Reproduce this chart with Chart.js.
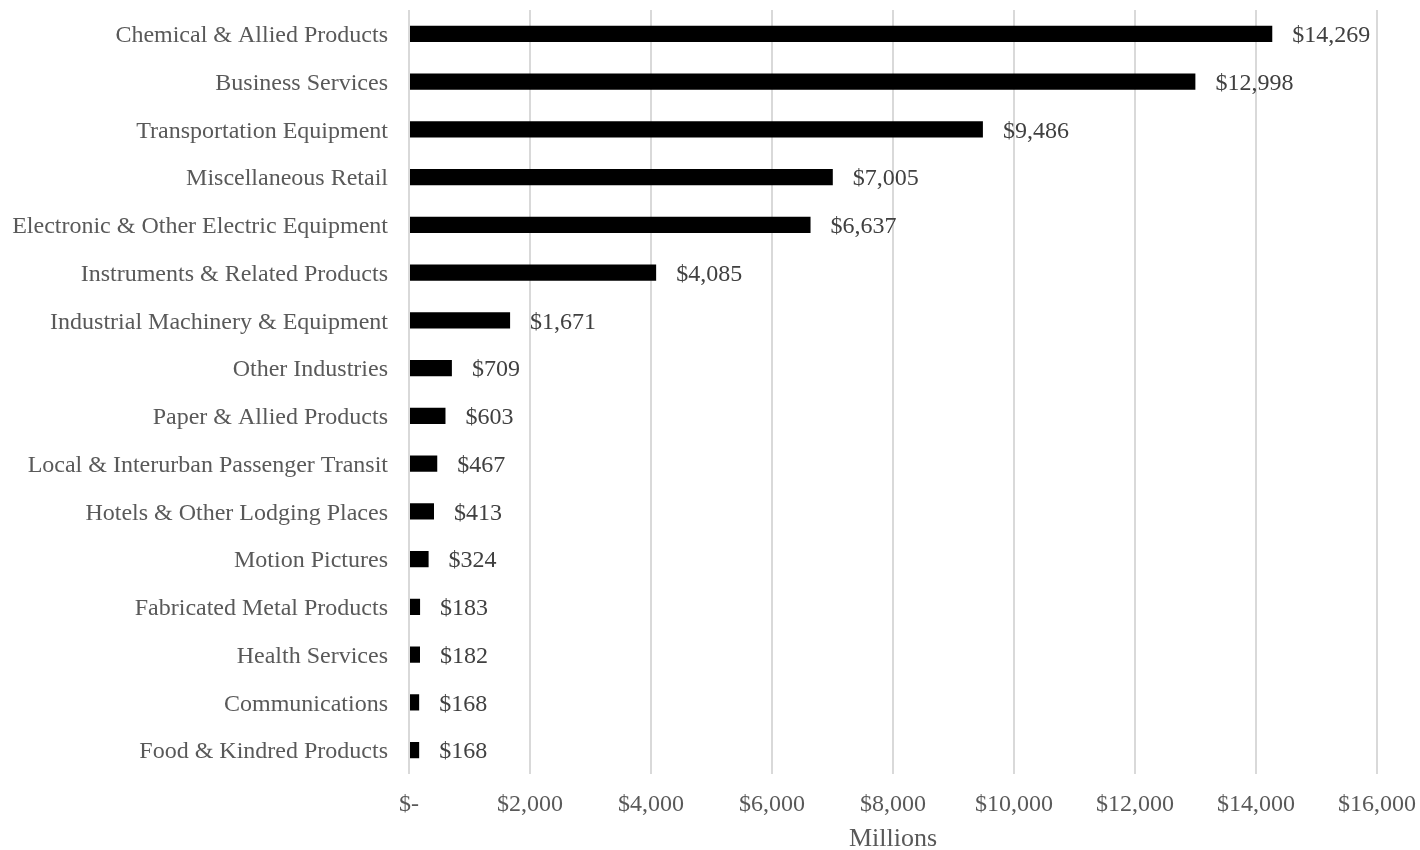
<!DOCTYPE html>
<html>
<head>
<meta charset="utf-8">
<script src="https://cdn.jsdelivr.net/npm/chart.js@4"></script>
<style>
  html, body { margin: 0; padding: 0; background: #fff; }
  #wrap { width: 1420px; height: 850px; }
</style>
</head>
<body>
<div id="wrap"><canvas id="myChart"></canvas></div>
<script>
const industrias = [
  "Chemical & Allied Products",
  "Business Services",
  "Transportation Equipment",
  "Miscellaneous Retail",
  "Electronic & Other Electric Equipment",
  "Instruments & Related Products",
  "Industrial Machinery & Equipment",
  "Other Industries",
  "Paper & Allied Products",
  "Local & Interurban Passenger Transit",
  "Hotels & Other Lodging Places",
  "Motion Pictures",
  "Fabricated Metal Products",
  "Health Services",
  "Communications",
  "Food & Kindred Products"
];
const montos = [14269, 12998, 9486, 7005, 6637, 4085, 1671, 709, 603, 467, 413, 324, 183, 182, 168, 168];
const ejeMax = 16000;
const ejePaso = 2000;

const fuente = "'Liberation Serif', 'Times New Roman', serif";

function dinero(v) {
  if (v === 0) return "$-";
  return "$" + v.toString().replace(/\B(?=(\d{3})+(?!\d))/g, ",");
}

// etiqueta con el valor al final de cada barra
const etiquetas = {
  id: "etiquetas",
  afterDatasetsDraw(chart) {
    const ctx = chart.ctx;
    const meta = chart.getDatasetMeta(0);
    ctx.save();
    ctx.font = "24px " + fuente;
    ctx.fillStyle = "#404040";
    ctx.textAlign = "left";
    ctx.textBaseline = "middle";
    meta.data.forEach(function (bar, i) {
      ctx.fillText(dinero(montos[i]), bar.x + 20, bar.y + 2);
    });
    ctx.restore();
  }
};

const ctx = document.getElementById("myChart").getContext("2d");
const myChart = new Chart(ctx, {
  type: "bar",
  data: {
    labels: industrias,
    datasets: [
      {
        data: montos,
        backgroundColor: "#000000",
        borderWidth: 0,
        categoryPercentage: 1,
        barPercentage: 0.34
      }
    ]
  },
  options: {
    indexAxis: "y",
    responsive: true,
    maintainAspectRatio: false,
    animation: false,
    layout: { padding: { top: 10, right: 43, bottom: 0, left: 0 } },
    plugins: {
      legend: { display: false },
      tooltip: { enabled: false }
    },
    scales: {
      x: {
        min: 0,
        max: ejeMax,
        grid: { color: "#d9d9d9", lineWidth: 2, drawTicks: false },
        border: { display: false },
        ticks: {
          stepSize: ejePaso,
          padding: 16,
          color: "#595959",
          font: { family: fuente, size: 24 },
          callback: function (v) { return dinero(v); }
        },
        title: {
          display: true,
          text: "Millions",
          color: "#595959",
          font: { family: fuente, size: 26, lineHeight: 0.8 },
          padding: { top: 0, bottom: 0 }
        },
        afterFit: function (scale) {
          scale.height = 76;
          scale.paddingLeft = 0;
          scale.paddingRight = 0;
        }
      },
      y: {
        grid: { display: false, drawTicks: false },
        border: { display: false },
        ticks: {
          padding: 21,
          labelOffset: 2,
          color: "#595959",
          font: { family: fuente, size: 24 }
        },
        afterFit: function (scale) {
          scale.width = 409;
          scale.paddingTop = 0;
          scale.paddingBottom = 0;
        }
      }
    }
  },
  plugins: [etiquetas]
});
</script>
</body>
</html>
